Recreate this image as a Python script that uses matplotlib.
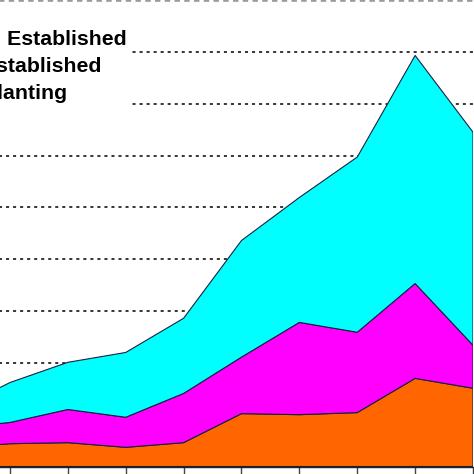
import matplotlib
matplotlib.use("Agg")
import matplotlib.pyplot as plt
import numpy as np

# Data (stacked area chart; left part of original chart is cropped)
x_pos = [0, 1, 2, 3, 4, 5, 6, 7, 8, 9]
replanting = [3.5, 4.4, 4.6, 3.7, 4.6, 10.2, 10.0, 10.4, 17.0, 15.1]
reestablished = [3.8, 4.1, 6.4, 5.8, 9.5, 10.9, 17.8, 15.5, 18.3, 8.3]
well_established = [3.3, 7.7, 9.1, 12.5, 14.5, 22.5, 24.1, 33.8, 44.0, 41.1]
labels = ["Replanting", "Reestablished", "Well Established"]
colors = ["#FF6600", "#FF00FF", "#00FFFF"]

W = H = 474
fig = plt.figure(figsize=(W / 100, H / 100), dpi=100)

# axes placed so that the left part (y axis, legend handles) is cropped
px0 = -47.9  # pixel of x=0
px9 = 473.0  # pixel of x=9
bottom_px = 466.5
ax = fig.add_axes([px0 / W, (H - bottom_px) / H, (px9 - px0) / W, bottom_px / H])

polys = ax.stackplot(x_pos, replanting, reestablished, well_established,
                     colors=colors, labels=labels,
                     edgecolor="#1a2040", linewidth=0.8, zorder=2)

ax.set_xlim(0, 9)
ax.set_ylim(0, 90)
ax.set_yticks(np.arange(0, 81, 10))
ax.set_xticks(x_pos)
ax.set_xticklabels([])
ax.set_yticklabels([])
ax.yaxis.grid(True, color="black", linestyle=(0, (2, 2.6)), linewidth=1.1, zorder=0)
ax.set_axisbelow(True)
# top border of the plot area (dashed grey, mostly cropped)
ax.axhline(90, color="#9a9a9a", linestyle=(0, (1.5, 1.2)), linewidth=2.6,
           clip_on=False, zorder=6)
for s in ["top", "right", "left"]:
    ax.spines[s].set_visible(False)
ax.spines["bottom"].set_color("#222222")
ax.spines["bottom"].set_linewidth(1.0)
ax.spines["bottom"].set_zorder(3)
ax.tick_params(axis="x", direction="out", length=5.5, width=1.0, color="#444444")
ax.tick_params(axis="y", length=0)

handles, labs = ax.get_legend_handles_labels()
leg = fig.legend(handles[::-1], labs[::-1], loc="upper left",
                 bbox_to_anchor=(-106 / W, 1 - 25.5 / H),
                 bbox_transform=fig.transFigure,
                 prop={"family": "Liberation Sans", "weight": "bold", "size": 15.3},
                 frameon=True, facecolor="white", edgecolor="none", framealpha=1.0,
                 fancybox=False, borderpad=0.2, handlelength=2.0, handletextpad=0.8,
                 labelspacing=0.38, borderaxespad=0)
leg.set_zorder(5)

fig.savefig("out.png", dpi=100)
